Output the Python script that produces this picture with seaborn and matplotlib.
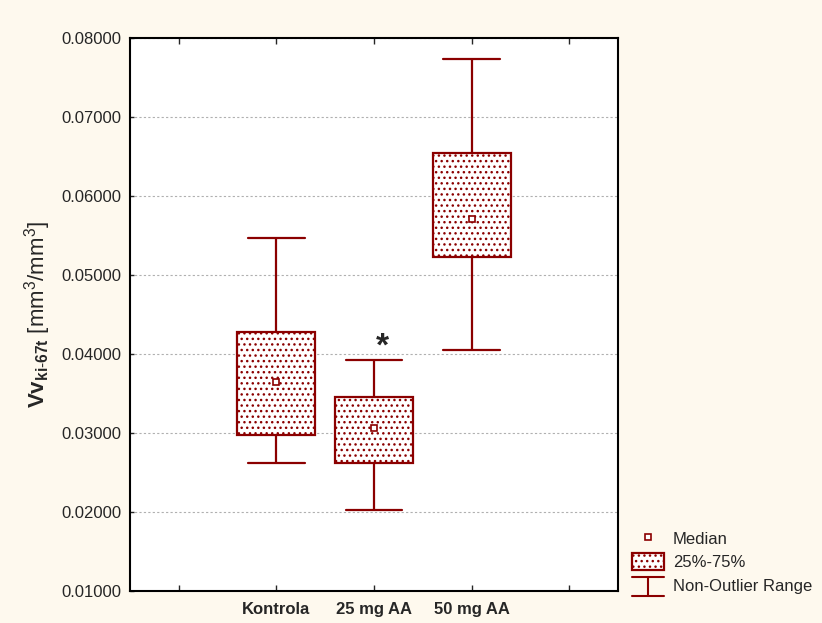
import numpy as np
import pandas as pd
import matplotlib as mpl
mpl.use('Agg')
import matplotlib.pyplot as plt
from matplotlib.lines import Line2D
from matplotlib.patches import Patch
from matplotlib.legend_handler import HandlerBase
import seaborn as sns

groups = ['Kontrola', '25 mg AA', '50 mg AA']
whisker_low = [0.0262, 0.0202, 0.0405]
q1 = [0.0297, 0.0262, 0.0523]
median = [0.0364, 0.0306, 0.0571]
q3 = [0.0428, 0.0345, 0.0654]
whisker_high = [0.0547, 0.0392, 0.0773]
y_ticks = [0.01, 0.02, 0.03, 0.04, 0.05, 0.06, 0.07, 0.08]
significant = ['25 mg AA']

RED = '#8B0000'
BG = '#FEF9EE'

# five summary values per group -> seaborn reproduces them exactly with whis=(0, 100)
rows = []
for g, a, b, c, d, e in zip(groups, whisker_low, q1, median, q3, whisker_high):
    for v in (a, b, c, d, e):
        rows.append((g, v))
df = pd.DataFrame(rows, columns=['group', 'value'])
order = [' '] + groups + ['  ']
positions = [order.index(g) for g in groups]

sns.set_style('white')
plt.rcParams['font.family'] = ['Liberation Sans', 'DejaVu Sans']
plt.rcParams['mathtext.fontset'] = 'custom'
plt.rcParams['mathtext.rm'] = 'Liberation Sans'
plt.rcParams['mathtext.bf'] = 'Liberation Sans:bold'
plt.rcParams['mathtext.it'] = 'Liberation Sans:italic'


class WhiskerHandler(HandlerBase):
    def create_artists(self, legend, orig_handle, xdescent, ydescent,
                       width, height, fontsize, trans):
        x0, x1 = -xdescent, -xdescent + width
        xm = (x0 + x1) / 2
        y0, y1 = -ydescent - 0.1 * height, -ydescent + 1.0 * height
        kw = dict(color=RED, lw=1.5, transform=trans)
        return [Line2D([x0, x1], [y1, y1], **kw),
                Line2D([xm, xm], [y0, y1], **kw),
                Line2D([x0, x1], [y0, y0], **kw)]


fig = plt.figure(figsize=(8.22, 6.23), dpi=100, facecolor=BG)
ax = fig.add_axes([0.158, 0.0514, 0.594, 0.8876])
ax.set_facecolor('white')

sns.boxplot(data=df, x='group', y='value', order=order, whis=(0, 100),
            width=0.8, color='white', linecolor=RED, linewidth=1.6,
            capwidths=0.58, medianprops={'visible': False}, ax=ax)

for p in ax.patches:
    p.set_hatch('...')
    p.set_edgecolor(RED)
    p.set_linewidth(1.6)

ax.plot(positions, median, ls='none', marker='s', ms=5, mfc='white',
        mec=RED, mew=1.2, zorder=5)

for g in significant:
    i = groups.index(g)
    ax.text(positions[i] + 0.09, whisker_high[i] - 0.0003, '*',
            ha='center', va='bottom', fontsize=24, fontweight='bold')

ax.set_xlim(-0.5, len(order) - 0.5)
ax.set_ylim(y_ticks[0], y_ticks[-1])
ax.set_yticks(y_ticks)
ax.set_yticklabels(['{:.5f}'.format(v) for v in y_ticks], fontsize=12)
ax.set_xticks(range(len(order)))
ax.set_xticklabels(order, fontsize=12, fontweight='bold')
ax.set_xlabel('')
ax.set_ylabel(r'$\mathbf{Vv_{ki\text{-}67t}}$ [mm$^3$/mm$^3$]', fontsize=16,
              labelpad=6)
ax.yaxis.grid(True, color='#B0B0B0', ls=(0, (2, 2)), lw=0.8)
ax.set_axisbelow(True)
ax.tick_params(axis='x', direction='in', top=True, bottom=True, length=4,
               width=1, pad=8)
ax.tick_params(axis='y', direction='in', left=True, length=3, width=1, pad=6)
for s in ax.spines.values():
    s.set_visible(True)
    s.set_color('black')
    s.set_linewidth(1.5)

handles = [Line2D([], [], ls='none', marker='s', ms=5, mfc='white', mec=RED, mew=1.2),
           Patch(facecolor='white', edgecolor=RED, hatch='...', lw=1.6),
           object()]
labels = ['Median', '25%-75%', 'Non-Outlier Range']
fig.legend(handles, labels, loc='lower left', bbox_to_anchor=(0.757, 0.03),
           frameon=False, fontsize=12, handlelength=1.9, handleheight=1.2,
           handletextpad=0.55, labelspacing=0.4, borderaxespad=0.2,
           handler_map={object: WhiskerHandler()})

fig.savefig('out.png', dpi=100, facecolor=BG)
